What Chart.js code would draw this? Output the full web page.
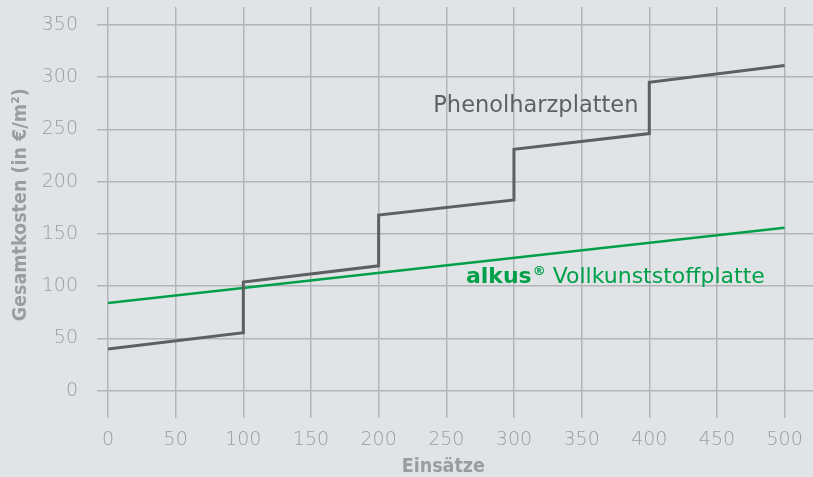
<!DOCTYPE html>
<html><head><meta charset="utf-8">
<script src="https://cdn.jsdelivr.net/npm/chart.js@4"></script>
<style>
html,body{margin:0;padding:0;background:#e1e4e7;}
#wrap{width:813px;height:477px;position:relative;}
</style></head>
<body><div id="wrap"><canvas id="c" width="813" height="477"></canvas></div>
<script>
const einsaetze = [0, 100, 100, 200, 200, 300, 300, 400, 400, 500];
const phenolKosten = [40, 55.5, 104, 119.5, 168, 182.5, 231, 246, 295, 311];
const alkusEinsaetze = [0, 500];
const alkusKosten = [84, 156];
const xTicks = [0, 50, 100, 150, 200, 250, 300, 350, 400, 450, 500];
const yTicks = [0, 50, 100, 150, 200, 250, 300, 350];
const labelPhenol = "Phenolharzplatten";
const labelAlkusBrand = "alkus";
const labelAlkusRest = " Vollkunststoffplatte";
const xTitle = "Einsätze";
const yTitle = "Gesamtkosten (in €/m²)";

const grey = '#9b9c9e';
const gridC = '#b3b5b8';
const FONT = '"DejaVu Sans", "Liberation Sans", Arial, sans-serif';
const FONT_C = '"DejaVu Sans Condensed", "DejaVu Sans", "Liberation Sans", Arial, sans-serif';

const labelsPlugin = {
  id: 'labels',
  afterDatasetsDraw(chart) {
    const {ctx, scales:{x, y}} = chart;
    ctx.save();
    ctx.textBaseline = 'alphabetic';
    ctx.fillStyle = '#5e5f61';
    ctx.font = '22.5px ' + FONT;
    ctx.fillText(labelPhenol, x.getPixelForValue(240.4), y.getPixelForValue(267));
    let px = x.getPixelForValue(264.5), py = y.getPixelForValue(103.5);
    ctx.fillStyle = '#00a04b';
    ctx.font = 'bold 22px ' + FONT;
    ctx.fillText(labelAlkusBrand, px, py);
    px += ctx.measureText(labelAlkusBrand).width + 1;
    ctx.font = 'bold 13px ' + FONT;
    ctx.fillText('\u00AE', px, py - 8);
    px += ctx.measureText('\u00AE').width;
    ctx.font = '22px ' + FONT;
    ctx.fillText(labelAlkusRest, px, py);

    // axis titles
    ctx.fillStyle = grey;
    ctx.font = 'bold 19.5px ' + FONT_C;
    ctx.textAlign = 'center';
    ctx.textBaseline = 'middle';
    const cx = (x.getPixelForValue(0) + x.getPixelForValue(500)) / 2;
    ctx.fillText(xTitle, cx - 3, 467);
    const cy = (y.getPixelForValue(0) + y.getPixelForValue(350)) / 2;
    ctx.translate(21, cy - 3);
    ctx.rotate(-Math.PI / 2);
    ctx.fillText(yTitle, 0, 0);
    ctx.restore();
  }
};

new Chart(document.getElementById('c'), {
  type: 'scatter',
  data: {
    datasets: [
      { data: einsaetze.map((v,i)=>({x:v, y:phenolKosten[i]})), showLine:true, borderColor:'#5e5f61', borderWidth:3, pointRadius:0, tension:0 },
      { data: alkusEinsaetze.map((v,i)=>({x:v, y:alkusKosten[i]})), showLine:true, borderColor:'#00a04b', borderWidth:2.5, pointRadius:0, tension:0 }
    ]
  },
  options: {
    responsive:false, animation:false,
    layout:{padding:{top:7,right:0,left:0,bottom:0}},
    plugins:{legend:{display:false}, tooltip:{enabled:false}},
    scales:{
      x:{
        type:'linear', min:0, max:521,
        afterBuildTicks(s){ s.ticks = xTicks.map(v=>({value:v})); },
        afterFit(s){ s.height = 59; s.paddingLeft = 0; s.paddingRight = 0; },
        border:{display:false},
        grid:{color:gridC, lineWidth:1.5, drawTicks:false},
        ticks:{color:grey, font:{family:FONT, size:19, weight:'200'}, padding:11, maxRotation:0},
        title:{display:false}
      },
      y:{
        type:'linear', min:-26, max:367,
        afterBuildTicks(s){ s.ticks = yTicks.map(v=>({value:v})); },
        afterFit(s){ s.width = 108; s.paddingTop = 0; s.paddingBottom = 0; },
        border:{display:false},
        grid:{color:gridC, lineWidth:1.5, tickLength:11, tickColor:gridC},
        ticks:{color:grey, font:{family:FONT, size:19, weight:'200'}, padding:19},
        title:{display:false}
      }
    }
  },
  plugins:[labelsPlugin]
});
</script></body></html>
